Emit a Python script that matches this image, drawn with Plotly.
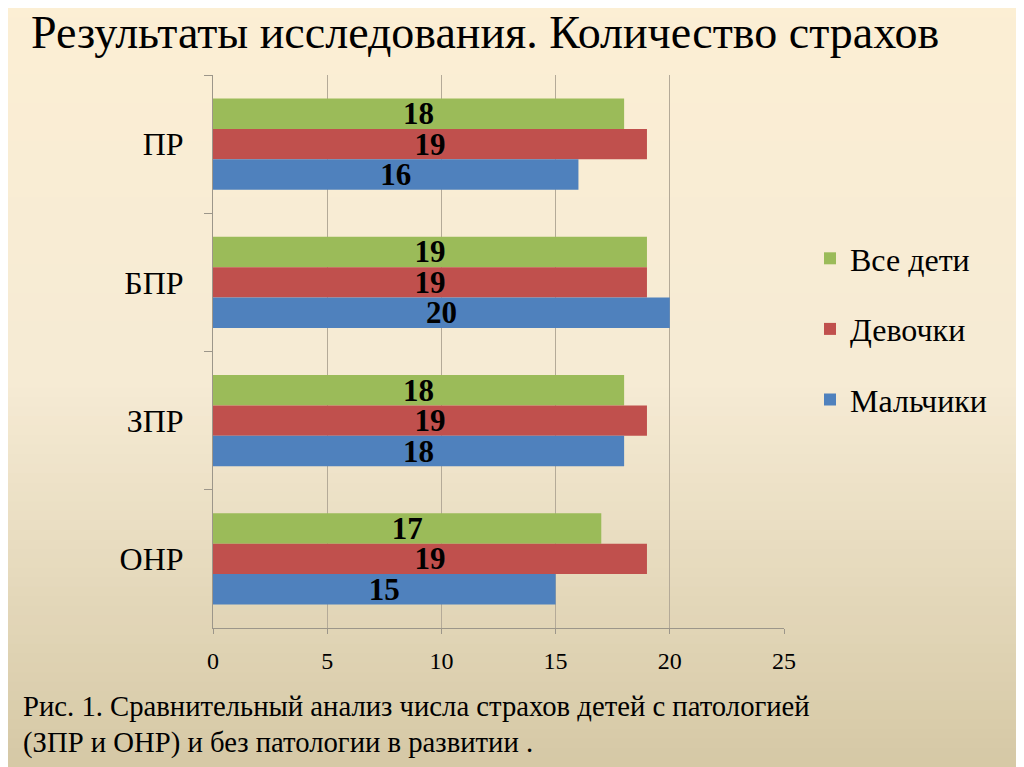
import plotly.graph_objects as go

categories = ["ПР", "БПР", "ЗПР", "ОНР"]  # top to bottom
boys = [16, 20, 18, 15]
girls = [19, 19, 19, 19]
all_children = [18, 19, 18, 17]
x_ticks = [0, 5, 10, 15, 20, 25]

title_text = "Результаты исследования. Количество страхов"
caption_line1 = "Рис. 1. Сравнительный анализ числа страхов детей с патологией"
caption_line2 = "(ЗПР и ОНР) и без патологии в развитии ."

FONT = "Liberation Serif, DejaVu Serif, serif"

fig = go.Figure()
series = [
    ("Все дети", all_children, "#9BBB59"),
    ("Девочки", girls, "#C0504D"),
    ("Мальчики", boys, "#4F81BD"),
]
for name, vals, color in series:
    fig.add_trace(go.Bar(
        y=categories, x=vals, name=name, orientation="h",
        marker=dict(color=color, line=dict(width=0)),
        text=[str(v) for v in vals], textposition="inside",
        insidetextanchor="middle", constraintext="none", textangle=0,
        textfont=dict(family=FONT, size=31, color="black", weight="bold"),
        legendgroup=name,
    ))

# page offset compensation (body margin 8px)
OFF = 8
W, H = 1024 - OFF, 767 - OFF
l, r, t, b = 213 - OFF, 240, 75 - OFF, 139
pw, ph = W - l - r, H - t - b

def px_x(x):
    return (x - OFF - l) / pw

def px_y(y):
    return (H - b - (y - OFF)) / ph

# gradient background via strips
shapes = []
N = 80
top = (252, 239, 212)
mid = (246, 235, 212)
bot = (214, 201, 166)
for i in range(N):
    f = i / (N - 1)
    if f < 0.5:
        g = f / 0.5
        c = tuple(top[k] + (mid[k] - top[k]) * g for k in range(3))
    else:
        g = (f - 0.5) / 0.5
        c = tuple(mid[k] + (bot[k] - mid[k]) * g for k in range(3))
    y_top_px = H * i / N
    y_bot_px = H * (i + 1) / N + 1
    shapes.append(dict(
        type="rect", xref="paper", yref="paper", layer="below",
        x0=-l / pw, x1=(W - l) / pw,
        y0=(H - b - y_bot_px) / ph, y1=(H - b - y_top_px) / ph,
        fillcolor="rgb(%d,%d,%d)" % c, line=dict(width=0),
    ))

fig.update_layout(
    width=W, height=H,
    margin=dict(l=l, r=r, t=t, b=b),
    paper_bgcolor="rgb(246,235,212)",
    plot_bgcolor="rgba(0,0,0,0)",
    barmode="group", bargap=0.34, bargroupgap=0,
    shapes=shapes,
    font=dict(family=FONT, color="black"),
    showlegend=True,
    legend=dict(
        x=px_x(810), y=px_y(329), xanchor="left", yanchor="middle",
        traceorder="grouped", tracegroupgap=26,
        font=dict(family=FONT, size=32, color="black"),
        bgcolor="rgba(0,0,0,0)", itemwidth=30,
    ),
    xaxis=dict(
        range=[0, 25], tickvals=x_ticks, showgrid=True,
        gridcolor="#B4AA98", gridwidth=1,
        showline=True, linecolor="#9C968A", linewidth=1,
        ticks="outside", ticklen=5, tickcolor="#9C968A",
        tickfont=dict(family=FONT, size=24, color="black"),
        ticklabelstandoff=6,
        zeroline=False, fixedrange=True,
    ),
    yaxis=dict(
        categoryorder="array", categoryarray=categories, autorange="reversed",
        showline=True, linecolor="#9C968A", linewidth=1,
        ticks="outside", ticklen=8, tickcolor="#9C968A",
        tickson="boundaries", showgrid=False,
        tickfont=dict(family=FONT, size=32, color="black"),
        ticklabelstandoff=22, fixedrange=True,
    ),
    annotations=[
        dict(text=title_text, xref="paper", yref="paper",
             x=px_x(29), y=px_y(32), xanchor="left", yanchor="middle",
             showarrow=False, font=dict(family=FONT, size=46, color="black")),
        dict(text=caption_line1, xref="paper", yref="paper",
             x=px_x(21), y=px_y(706), xanchor="left", yanchor="middle",
             showarrow=False, font=dict(family=FONT, size=28.7, color="black")),
        dict(text=caption_line2, xref="paper", yref="paper",
             x=px_x(21), y=px_y(742), xanchor="left", yanchor="middle",
             showarrow=False, font=dict(family=FONT, size=28.7, color="black")),
    ],
)

fig.write_html("out.html")
